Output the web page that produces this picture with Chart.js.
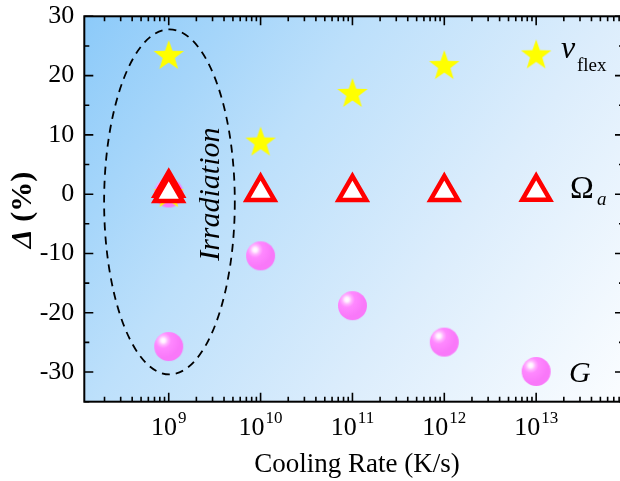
<!DOCTYPE html>
<html>
<head>
<meta charset="utf-8">
<script src="https://cdn.jsdelivr.net/npm/chart.js@4.4.1/dist/chart.umd.min.js"></script>
<style>
    html, body { margin: 0; padding: 0; background: #fff; overflow: hidden; }
    #wrap { width: 620px; height: 481px; overflow: hidden; }
</style>
</head>
<body>
<div id="wrap"><canvas id="myChart" width="624" height="481"></canvas></div>
<script>
// Cooling rate (K/s) and relative change of each property (%)
var rates = [1e9, 1e10, 1e11, 1e12, 1e13];
var vflexValues = [23.3, 8.7, 16.9, 21.6, 23.4];
var omegaValues = [1.1, 0.35, 0.35, 0.35, 0.4];
var gValues = [-25.7, -10.4, -18.8, -24.95, -29.9];

// irradiated sample, sits in the 10^9 column
var irrRates = [1e9];
var irrVflex = [0];
var irrOmega = [0.2];
var irrG = [0.2];

var yTicks = [-30, -20, -10, 0, 10, 20, 30];
var xTickPowers = [9, 10, 11, 12, 13];

var SERIF = "'Liberation Serif', 'Times New Roman', serif";

function points(xs, ys) {
    return xs.map(function (x, i) { return { x: x, y: ys[i] }; });
}

// five point star marker
function makeStar(r) {
    var c = document.createElement("canvas");
    var s = Math.ceil(2 * r + 2);
    c.width = s; c.height = s;
    var ctx = c.getContext("2d");
    ctx.translate(s / 2, s / 2);
    ctx.beginPath();
    for (var k = 0; k < 10; k++) {
        var rad = (k % 2 === 0) ? r : r * 0.4;
        var a = -Math.PI / 2 + k * Math.PI / 5;
        ctx.lineTo(Math.cos(a) * rad, Math.sin(a) * rad);
    }
    ctx.closePath();
    ctx.fillStyle = "#ffff00";
    ctx.fill();
    return c;
}

// shiny ball marker
function makeBall(r) {
    var c = document.createElement("canvas");
    var s = Math.ceil(2 * r + 2);
    c.width = s; c.height = s;
    var ctx = c.getContext("2d");
    var cx = s / 2, cy = s / 2;
    var g = ctx.createRadialGradient(cx - r * 0.38, cy - r * 0.42, 0, cx - r * 0.38, cy - r * 0.42, r * 1.2);
    g.addColorStop(0, "#ffffff");
    g.addColorStop(0.12, "#fff0ff");
    g.addColorStop(0.28, "#ffb0ff");
    g.addColorStop(0.45, "#ff88ff");
    g.addColorStop(1, "#f978f9");
    ctx.beginPath();
    ctx.arc(cx, cy, r, 0, Math.PI * 2);
    ctx.fillStyle = g;
    ctx.fill();
    return c;
}

var starImg = makeStar(16);
var ballImg = makeBall(14.5);

// keep the plot box exactly where the axes say, no label overhang
function noOverhang(scale) {
    scale.paddingTop = 0;
    scale.paddingBottom = 0;
    scale.paddingLeft = 0;
    scale.paddingRight = 0;
}

// background, frame, inward ticks and the hand placed texts
var decorPlugin = {
    id: "decor",
    beforeDatasetsDraw: function (chart) {
        var ctx = chart.ctx, a = chart.chartArea;
        var g = ctx.createLinearGradient(a.left, a.top, a.right, a.bottom);
        g.addColorStop(0, "#8ccaf9");
        g.addColorStop(0.35, "#bde0fb");
        g.addColorStop(0.65, "#dcedfc");
        g.addColorStop(1, "#fbfdff");
        ctx.save();
        ctx.fillStyle = g;
        ctx.fillRect(a.left, a.top, a.right - a.left, a.bottom - a.top);
        ctx.restore();
    },
    afterDatasetsDraw: function (chart) {
        var ctx = chart.ctx, a = chart.chartArea;
        var xs = chart.scales.x, ys = chart.scales.y;

        // dashed ellipse round the irradiation column
        var x0 = xs.getPixelForValue(1.98e8), x1 = xs.getPixelForValue(5.24e9);
        var y0 = ys.getPixelForValue(27.8), y1 = ys.getPixelForValue(-30.4);
        ctx.save();
        ctx.beginPath();
        ctx.ellipse((x0 + x1) / 2, (y0 + y1) / 2, (x1 - x0) / 2, (y1 - y0) / 2, 0, 0, Math.PI * 2);
        ctx.setLineDash([8, 6]);
        ctx.lineWidth = 1.8;
        ctx.strokeStyle = "#000";
        ctx.stroke();
        ctx.restore();

        ctx.save();
        ctx.fillStyle = "#000";
        ctx.translate(xs.getPixelForValue(3.55e9), ys.getPixelForValue(0));
        ctx.rotate(-Math.PI / 2);
        ctx.font = "italic 30px " + SERIF;
        ctx.textAlign = "center";
        ctx.textBaseline = "alphabetic";
        ctx.fillText("Irradiation", 0, 0);
        ctx.restore();

        // frame
        ctx.save();
        ctx.strokeStyle = "#000";
        ctx.lineWidth = 2;
        ctx.strokeRect(a.left, a.top, a.right - a.left, a.bottom - a.top);

        // ticks pointing inwards
        ctx.lineWidth = 1.6;
        ctx.beginPath();
        for (var v = -35; v <= 30; v += 5) {
            var py = ys.getPixelForValue(v);
            var len = (v % 10 === 0) ? 9 : 5;
            ctx.moveTo(a.left, py); ctx.lineTo(a.left + len, py);
            ctx.moveTo(a.right, py); ctx.lineTo(a.right - len, py);
        }
        for (var p = 8; p <= 13; p++) {
            for (var k = 1; k <= 9; k++) {
                var val = k * Math.pow(10, p);
                if (val < xs.min || val > xs.max) continue;
                var px = xs.getPixelForValue(val);
                var tl = (k === 1) ? 9 : 5;
                ctx.moveTo(px, a.bottom); ctx.lineTo(px, a.bottom - tl);
                ctx.moveTo(px, a.top); ctx.lineTo(px, a.top + tl);
            }
        }
        ctx.stroke();
        ctx.restore();

        // x tick labels with exponents
        ctx.save();
        ctx.fillStyle = "#000";
        ctx.textAlign = "left";
        ctx.textBaseline = "alphabetic";
        xTickPowers.forEach(function (p) {
            var px = xs.getPixelForValue(Math.pow(10, p));
            ctx.font = "26px " + SERIF;
            var w1 = ctx.measureText("10").width;
            ctx.font = "17px " + SERIF;
            var w2 = ctx.measureText(String(p)).width;
            var start = px - (w1 + 1 + w2) / 2;
            ctx.font = "26px " + SERIF;
            ctx.fillText("10", start, a.bottom + 33);
            ctx.font = "17px " + SERIF;
            ctx.fillText(String(p), start + w1 + 1, a.bottom + 21);
        });

        // axis titles
        ctx.font = "27px " + SERIF;
        ctx.textAlign = "center";
        ctx.fillText("Cooling Rate (K/s)", 357, a.bottom + 70);

        ctx.save();
        ctx.translate(31, 210);
        ctx.rotate(-Math.PI / 2);
        ctx.textAlign = "left";
        ctx.font = "italic bold 30px " + SERIF;
        var wd = ctx.measureText("\u0394").width;
        ctx.font = "bold 30px " + SERIF;
        var wr = ctx.measureText(" (%)").width;
        var s0 = -(wd + wr) / 2;
        ctx.font = "italic bold 30px " + SERIF;
        ctx.fillText("\u0394", s0, 0);
        ctx.font = "bold 30px " + SERIF;
        ctx.fillText(" (%)", s0 + wd, 0);
        ctx.restore();

        // series names at the right
        ctx.textAlign = "left";
        ctx.font = "italic 32px " + SERIF;
        ctx.fillText("v", 561, ys.getPixelForValue(23.0));
        ctx.font = "19px " + SERIF;
        ctx.fillText("flex", 577, ys.getPixelForValue(20.8));

        ctx.font = "32px " + SERIF;
        ctx.fillText("\u03A9", 570, ys.getPixelForValue(-0.67));
        ctx.font = "italic 19px " + SERIF;
        ctx.fillText("a", 597, ys.getPixelForValue(-1.75));

        ctx.font = "italic 30px " + SERIF;
        ctx.fillText("G", 569, ys.getPixelForValue(-31.7));
        ctx.restore();
    }
};

new Chart("myChart", {
    type: "scatter",
    data: {
        datasets: [{
            label: "Omega_a",
            data: points(rates, omegaValues).concat(points(irrRates, irrOmega)),
            pointStyle: "triangle",
            pointRadius: 16,
            borderWidth: 4.5,
            borderColor: "#ff0000",
            backgroundColor: "#ffffff",
            order: 0,
        },
        {
            label: "v_flex",
            data: points(rates, vflexValues).concat(points(irrRates, irrVflex)),
            pointStyle: starImg,
            order: 1,
        },
        {
            label: "G",
            data: points(rates, gValues).concat(points(irrRates, irrG)),
            pointStyle: ballImg,
            order: 2,
        },
        ],
    },
    options: {
        responsive: false,
        animation: false,
        events: [],
        layout: {
            autoPadding: false,
            padding: { top: 16.3, right: 0, left: 0, bottom: 0 },
        },
        plugins: {
            legend: { display: false },
            tooltip: { enabled: false },
        },
        scales: {
            x: {
                type: "logarithmic",
                min: 1.205e8,
                max: 9.04e13,
                grid: { display: false, drawTicks: false },
                border: { display: false },
                ticks: { display: false },
                afterFit: function (scale) {
                    noOverhang(scale);
                    scale.height = 79.3;
                },
            },
            y: {
                type: "linear",
                min: -35,
                max: 30,
                grid: { display: false, drawTicks: false },
                border: { display: false },
                afterBuildTicks: function (scale) {
                    scale.ticks = yTicks.map(function (v) { return { value: v }; });
                },
                ticks: {
                    color: "#000",
                    padding: 10,
                    font: { family: SERIF, size: 26 },
                },
                afterFit: function (scale) {
                    noOverhang(scale);
                    scale.width = 84.3;
                },
            },
        },
    },
    plugins: [decorPlugin],
});
</script>
</body>
</html>
